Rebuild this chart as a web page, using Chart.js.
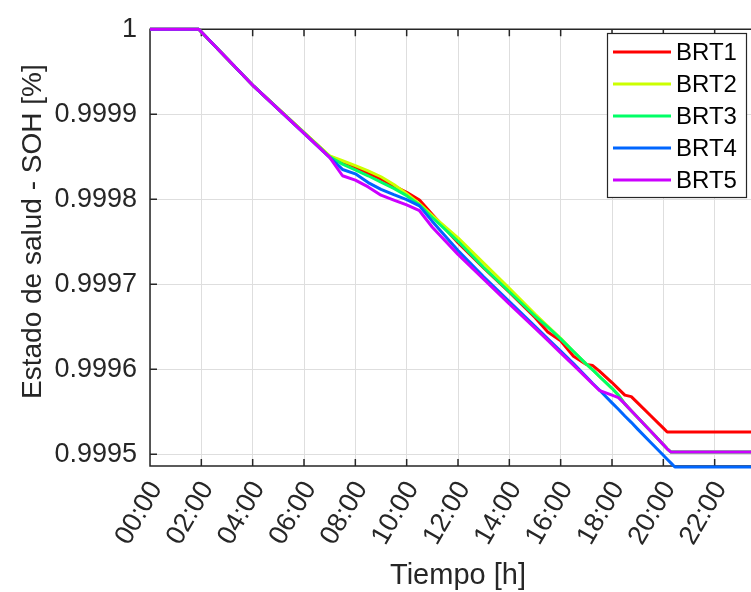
<!DOCTYPE html>
<html>
<head>
<meta charset="utf-8">
<script src="https://cdn.jsdelivr.net/npm/chart.js@4.4.0/dist/chart.umd.min.js"></script>
<style>
  html, body { margin: 0; padding: 0; background: #fff; overflow: hidden; }
  #wrap { width: 751px; height: 592px; overflow: hidden; }
</style>
</head>
<body>
<div id="wrap"><canvas id="soh" width="780" height="592"></canvas></div>
<script>
// time of day in hours
const hours = [0, 1.9, 4.05, 7, 7.5, 8, 8.5, 9, 9.5, 10, 10.5, 11, 12, 13, 14, 15, 15.5, 16, 16.5, 17,
  17.25, 17.5, 18, 18.25, 18.5, 18.75, 19, 19.5, 20, 20.15, 20.3, 20.45, 21, 22, 23, 24];

// state of health per battery
const brt1 = [1, 1, 0.99993265, 0.99985046, 0.99984418, 0.99983790, 0.99983048, 0.99982363, 0.99981564, 0.99980822,
  0.99979909, 0.99978196, 0.99974886, 0.99971918, 0.99969064, 0.99966096, 0.99964384, 0.99963356, 0.99961530, 0.99960559,
  0.99960445, 0.99959817, 0.99958447, 0.99957705, 0.99956963, 0.99956792, 0.99956050, 0.99954566, 0.99953082, 0.99952626,
  0.99952626, 0.99952626, 0.99952626, 0.99952626, 0.99952626, 0.99952626];
const brt2 = [1, 1, 0.99993265, 0.99985103, 0.99984532, 0.99983961, 0.99983333, 0.99982648, 0.99981735, 0.99980651,
  0.99979452, 0.99978082, 0.99975457, 0.99972489, 0.99969521, 0.99966495, 0.99965068, 0.99963642, 0.99962100, 0.99960616,
  0.99959932, 0.99959190, 0.99957763, 0.99956963, 0.99955936, 0.99955137, 0.99954338, 0.99952740, 0.99951142, 0.99950651,
  0.99950263, 0.99950263, 0.99950263, 0.99950263, 0.99950263, 0.99950263];
const brt3 = [1, 1, 0.99993265, 0.99984989, 0.99984132, 0.99983447, 0.99982763, 0.99982021, 0.99981279, 0.99980422,
  0.99979338, 0.99977854, 0.99975057, 0.99971975, 0.99969121, 0.99966267, 0.99964954, 0.99963584, 0.99962100, 0.99960616,
  0.99959932, 0.99959190, 0.99957763, 0.99956963, 0.99955936, 0.99955137, 0.99954338, 0.99952740, 0.99951142, 0.99950651,
  0.99950263, 0.99950263, 0.99950263, 0.99950263, 0.99950263, 0.99950263];
const brt4 = [1, 1, 0.99993265, 0.99984932, 0.99983505, 0.99982991, 0.99981963, 0.99981164, 0.99980537, 0.99979966,
  0.99979224, 0.99977397, 0.99973973, 0.99970890, 0.99967979, 0.99965068, 0.99963584, 0.99962158, 0.99960674, 0.99959132,
  0.99958333, 0.99957591, 0.99956050, 0.99955308, 0.99954509, 0.99953767, 0.99952968, 0.99951427, 0.99949886, 0.99949429,
  0.99948973, 0.99948516, 0.99948516, 0.99948516, 0.99948516, 0.99948516];
const brt5 = [1, 1, 0.99993265, 0.99984932, 0.99982763, 0.99982249, 0.99981450, 0.99980479, 0.99979909, 0.99979338,
  0.99978653, 0.99976712, 0.99973516, 0.99970605, 0.99967694, 0.99964840, 0.99963413, 0.99961929, 0.99960502, 0.99959018,
  0.99958276, 0.99957534, 0.99956963, 0.99956678, 0.99955936, 0.99955137, 0.99954338, 0.99952740, 0.99951142, 0.99950651,
  0.99950263, 0.99950263, 0.99950263, 0.99950263, 0.99950263, 0.99950263];

const seriesNames = ['BRT1', 'BRT2', 'BRT3', 'BRT4', 'BRT5'];
const seriesValues = [brt1, brt2, brt3, brt4, brt5];
const seriesColors = ['#ff0000', '#ccff00', '#00ff66', '#0066ff', '#cc00ff'];

const xTicks = [0, 2, 4, 6, 8, 10, 12, 14, 16, 18, 20, 22];
const yTicks = [0.9995, 0.9996, 0.9997, 0.9998, 0.9999, 1];

const FONT = '"Liberation Sans", Arial, Helvetica, sans-serif';
const AXIS_COLOR = '#262626';

// matlab style box with inward ticks, drawn under the lines
const axesBox = {
  id: 'axesBox',
  beforeDatasetsDraw(chart) {
    const { ctx, chartArea: a, scales: { x, y } } = chart;
    ctx.save();
    ctx.strokeStyle = AXIS_COLOR;
    ctx.lineWidth = 1.5;
    ctx.beginPath();
    ctx.moveTo(a.right, a.top);
    ctx.lineTo(a.left, a.top);
    ctx.lineTo(a.left, a.bottom);
    ctx.lineTo(a.right, a.bottom);
    xTicks.forEach(v => {
      const px = x.getPixelForValue(v);
      ctx.moveTo(px, a.bottom); ctx.lineTo(px, a.bottom - 7);
      ctx.moveTo(px, a.top); ctx.lineTo(px, a.top + 7);
    });
    yTicks.forEach(v => {
      const py = y.getPixelForValue(v);
      ctx.moveTo(a.left, py); ctx.lineTo(a.left + 7, py);
    });
    ctx.stroke();

    // y label, sits a little above the plot centre like the original
    ctx.fillStyle = AXIS_COLOR;
    ctx.font = '28px ' + FONT;
    ctx.textAlign = 'center';
    ctx.textBaseline = 'middle';
    ctx.translate(33, (a.top + a.bottom) / 2 - 16);
    ctx.rotate(-Math.PI / 2);
    ctx.fillText('Estado de salud - SOH [%]', 0, 0);
    ctx.restore();
  }
};

const boxLegend = {
  id: 'boxLegend',
  afterDraw(chart) {
    const { ctx } = chart;
    const left = 607, top = 33, w = 139, h = 164, rowH = 32;
    ctx.save();
    ctx.fillStyle = '#fff';
    ctx.fillRect(left, top, w, h);
    ctx.strokeStyle = AXIS_COLOR;
    ctx.lineWidth = 1.2;
    ctx.strokeRect(left + 0.5, top + 0.5, w, h);
    ctx.font = '24px ' + FONT;
    ctx.textBaseline = 'middle';
    chart.data.datasets.forEach((ds, i) => {
      const cy = top + 19 + i * rowH;
      ctx.strokeStyle = ds.borderColor;
      ctx.lineWidth = 3;
      ctx.beginPath();
      ctx.moveTo(left + 6, cy);
      ctx.lineTo(left + 64, cy);
      ctx.stroke();
      ctx.fillStyle = '#000';
      ctx.fillText(ds.label, left + 69, cy + 1);
    });
    ctx.restore();
  }
};

const datasets = seriesNames.map((name, i) => ({
  label: name,
  data: hours.map((h, j) => ({ x: h, y: seriesValues[i][j] })),
  borderColor: seriesColors[i],
  backgroundColor: seriesColors[i],
  borderWidth: 3,
  pointRadius: 0,
  tension: 0,
  fill: false,
  clip: 4,
  order: seriesNames.length - i, // BRT5 drawn last, on top
  borderJoinStyle: 'round'
}));

new Chart(document.getElementById('soh'), {
  type: 'line',
  data: { datasets },
  options: {
    responsive: false,
    animation: false,
    devicePixelRatio: 1,
    layout: { padding: { top: 16, right: 14, left: 0, bottom: 0 } },
    plugins: { legend: { display: false }, tooltip: { enabled: false } },
    scales: {
      x: {
        type: 'linear',
        min: 0,
        max: 24,
        afterBuildTicks: s => { s.ticks = xTicks.map(v => ({ value: v })); },
        afterFit: s => { s.height = 126; },
        grid: { color: '#dedede', lineWidth: 1, drawTicks: false },
        border: { display: false },
        ticks: {
          minRotation: 60,
          maxRotation: 60,
          padding: 10,
          labelOffset: 6,
          color: AXIS_COLOR,
          font: { family: FONT, size: 27 },
          callback: v => String(v).padStart(2, '0') + ':00'
        },
        title: {
          display: true,
          text: 'Tiempo [h]',
          color: AXIS_COLOR,
          font: { family: FONT, size: 29, lineHeight: 1 },
          padding: { top: 0, bottom: 2 }
        }
      },
      y: {
        min: 0.9994863,
        max: 1,
        afterBuildTicks: s => { s.ticks = yTicks.map(v => ({ value: v })); },
        afterFit: s => { s.width = 150; },
        grid: { color: '#dedede', lineWidth: 1, drawTicks: false },
        border: { display: false },
        ticks: {
          padding: 13,
          color: AXIS_COLOR,
          font: { family: FONT, size: 27 },
          callback: v => String(+v.toFixed(4))
        },
        title: { display: false }
      }
    }
  },
  plugins: [axesBox, boxLegend]
});
</script>
</body>
</html>
